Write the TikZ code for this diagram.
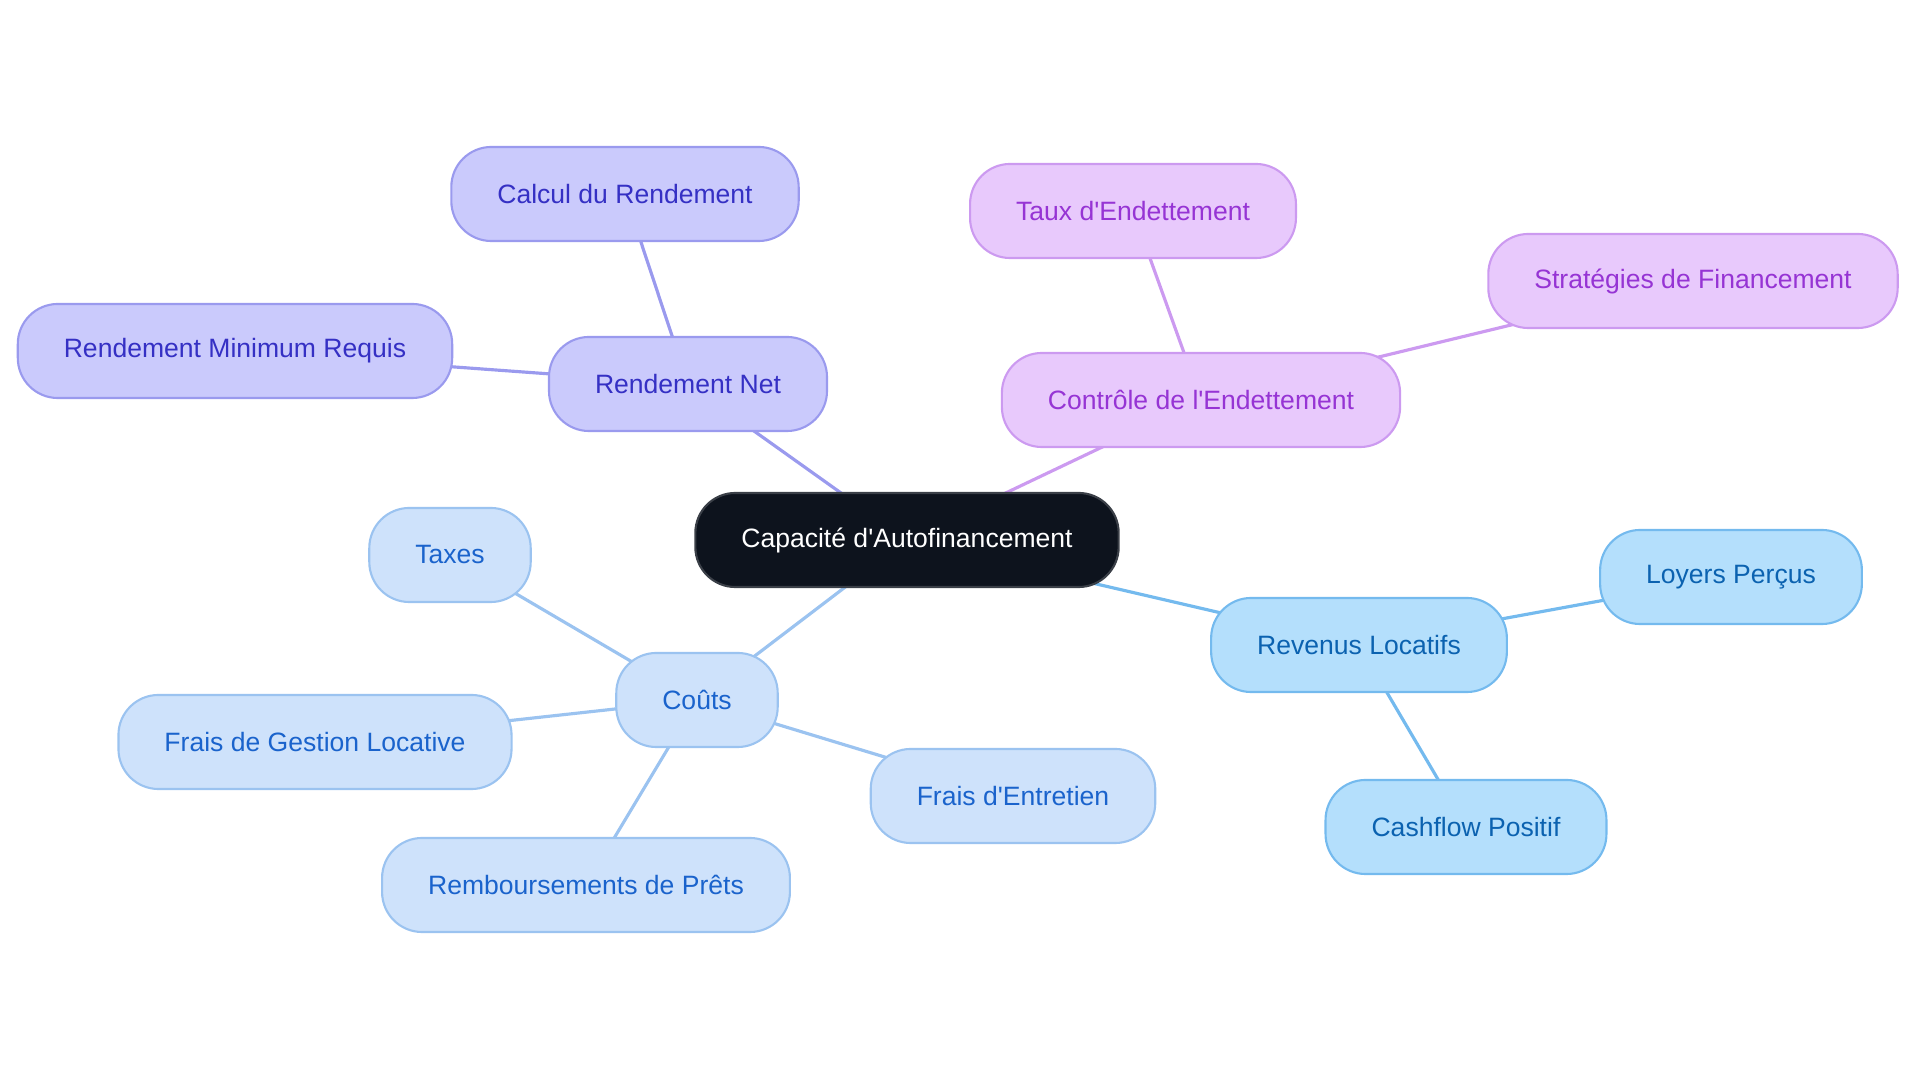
\documentclass[tikz,border=0pt]{standalone}
\usepackage{fontspec}
\setmainfont{Liberation Sans}[Ligatures=TeXOff]
\usetikzlibrary{backgrounds}

\definecolor{rootfill}{HTML}{0D131D}
\definecolor{rootline}{HTML}{3A3F47}
\definecolor{yieldfill}{HTML}{CACAFC}
\definecolor{yieldline}{HTML}{9A9AEE}
\definecolor{yieldtext}{HTML}{3530C4}
\definecolor{debtfill}{HTML}{E8C9FC}
\definecolor{debtline}{HTML}{CC9AF0}
\definecolor{debttext}{HTML}{9634D4}
\definecolor{rentfill}{HTML}{B4DFFC}
\definecolor{rentline}{HTML}{74BAEE}
\definecolor{renttext}{HTML}{0B62B0}
\definecolor{costfill}{HTML}{CEE2FB}
\definecolor{costline}{HTML}{9BC3F0}
\definecolor{costtext}{HTML}{1A63CC}

\begin{document}
\begin{tikzpicture}[x=0.01cm, y=-0.01cm,
	every node/.style={rounded corners=0.4cm, minimum height=0.94cm, inner xsep=0.46cm, line width=0.6pt, font=\fontsize{7.55}{9}\selectfont},
	root/.style={draw=rootline, fill=rootfill, text=white},
	yieldbox/.style={draw=yieldline, fill=yieldfill, text=yieldtext},
	debtbox/.style={draw=debtline, fill=debtfill, text=debttext},
	rentbox/.style={draw=rentline, fill=rentfill, text=renttext},
	costbox/.style={draw=costline, fill=costfill, text=costtext},
	link/.style={line width=0.9pt}]
\useasboundingbox (0,0) rectangle (1920,1083);

\node[root] (caf) at (907,540) {Capacité d'Autofinancement};

\node[yieldbox] (net) at (688,384) {Rendement Net};
\node[yieldbox] (calc) at (625,194) {Calcul du Rendement};
\node[yieldbox] (minreq) at (235,351) {Rendement Minimum Requis};

\node[debtbox] (ctrl) at (1201,400) {Contrôle de l'Endettement};
\node[debtbox] (taux) at (1133,211) {Taux d'Endettement};
\node[debtbox] (strat) at (1693,281) {Stratégies de Financement};

\node[rentbox] (rev) at (1359,645) {Revenus Locatifs};
\node[rentbox] (loyers) at (1731,577) {Loyers Perçus};
\node[rentbox] (cash) at (1466,827) {Cashflow Positif};

\node[costbox] (couts) at (697,700) {Coûts};
\node[costbox] (taxes) at (450,555) {Taxes};
\node[costbox] (gestion) at (315,742) {Frais de Gestion Locative};
\node[costbox] (entretien) at (1013,796) {Frais d'Entretien};
\node[costbox] (remb) at (586,885) {Remboursements de Prêts};

% links run centre to centre, under the boxes
\begin{scope}[on background layer]
	\draw[link, yieldline] (caf.center) -- (net.center) (net.center) -- (calc.center) (net.center) -- (minreq.center);
	\draw[link, debtline] (caf.center) -- (ctrl.center) (ctrl.center) -- (taux.center) (ctrl.center) -- (strat.center);
	\draw[link, rentline] (caf.center) -- (rev.center) (rev.center) -- (loyers.center) (rev.center) -- (cash.center);
	\draw[link, costline] (caf.center) -- (couts.center) (couts.center) -- (taxes.center) (couts.center) -- (gestion.center)
		(couts.center) -- (entretien.center) (couts.center) -- (remb.center);
\end{scope}
\end{tikzpicture}
\end{document}
